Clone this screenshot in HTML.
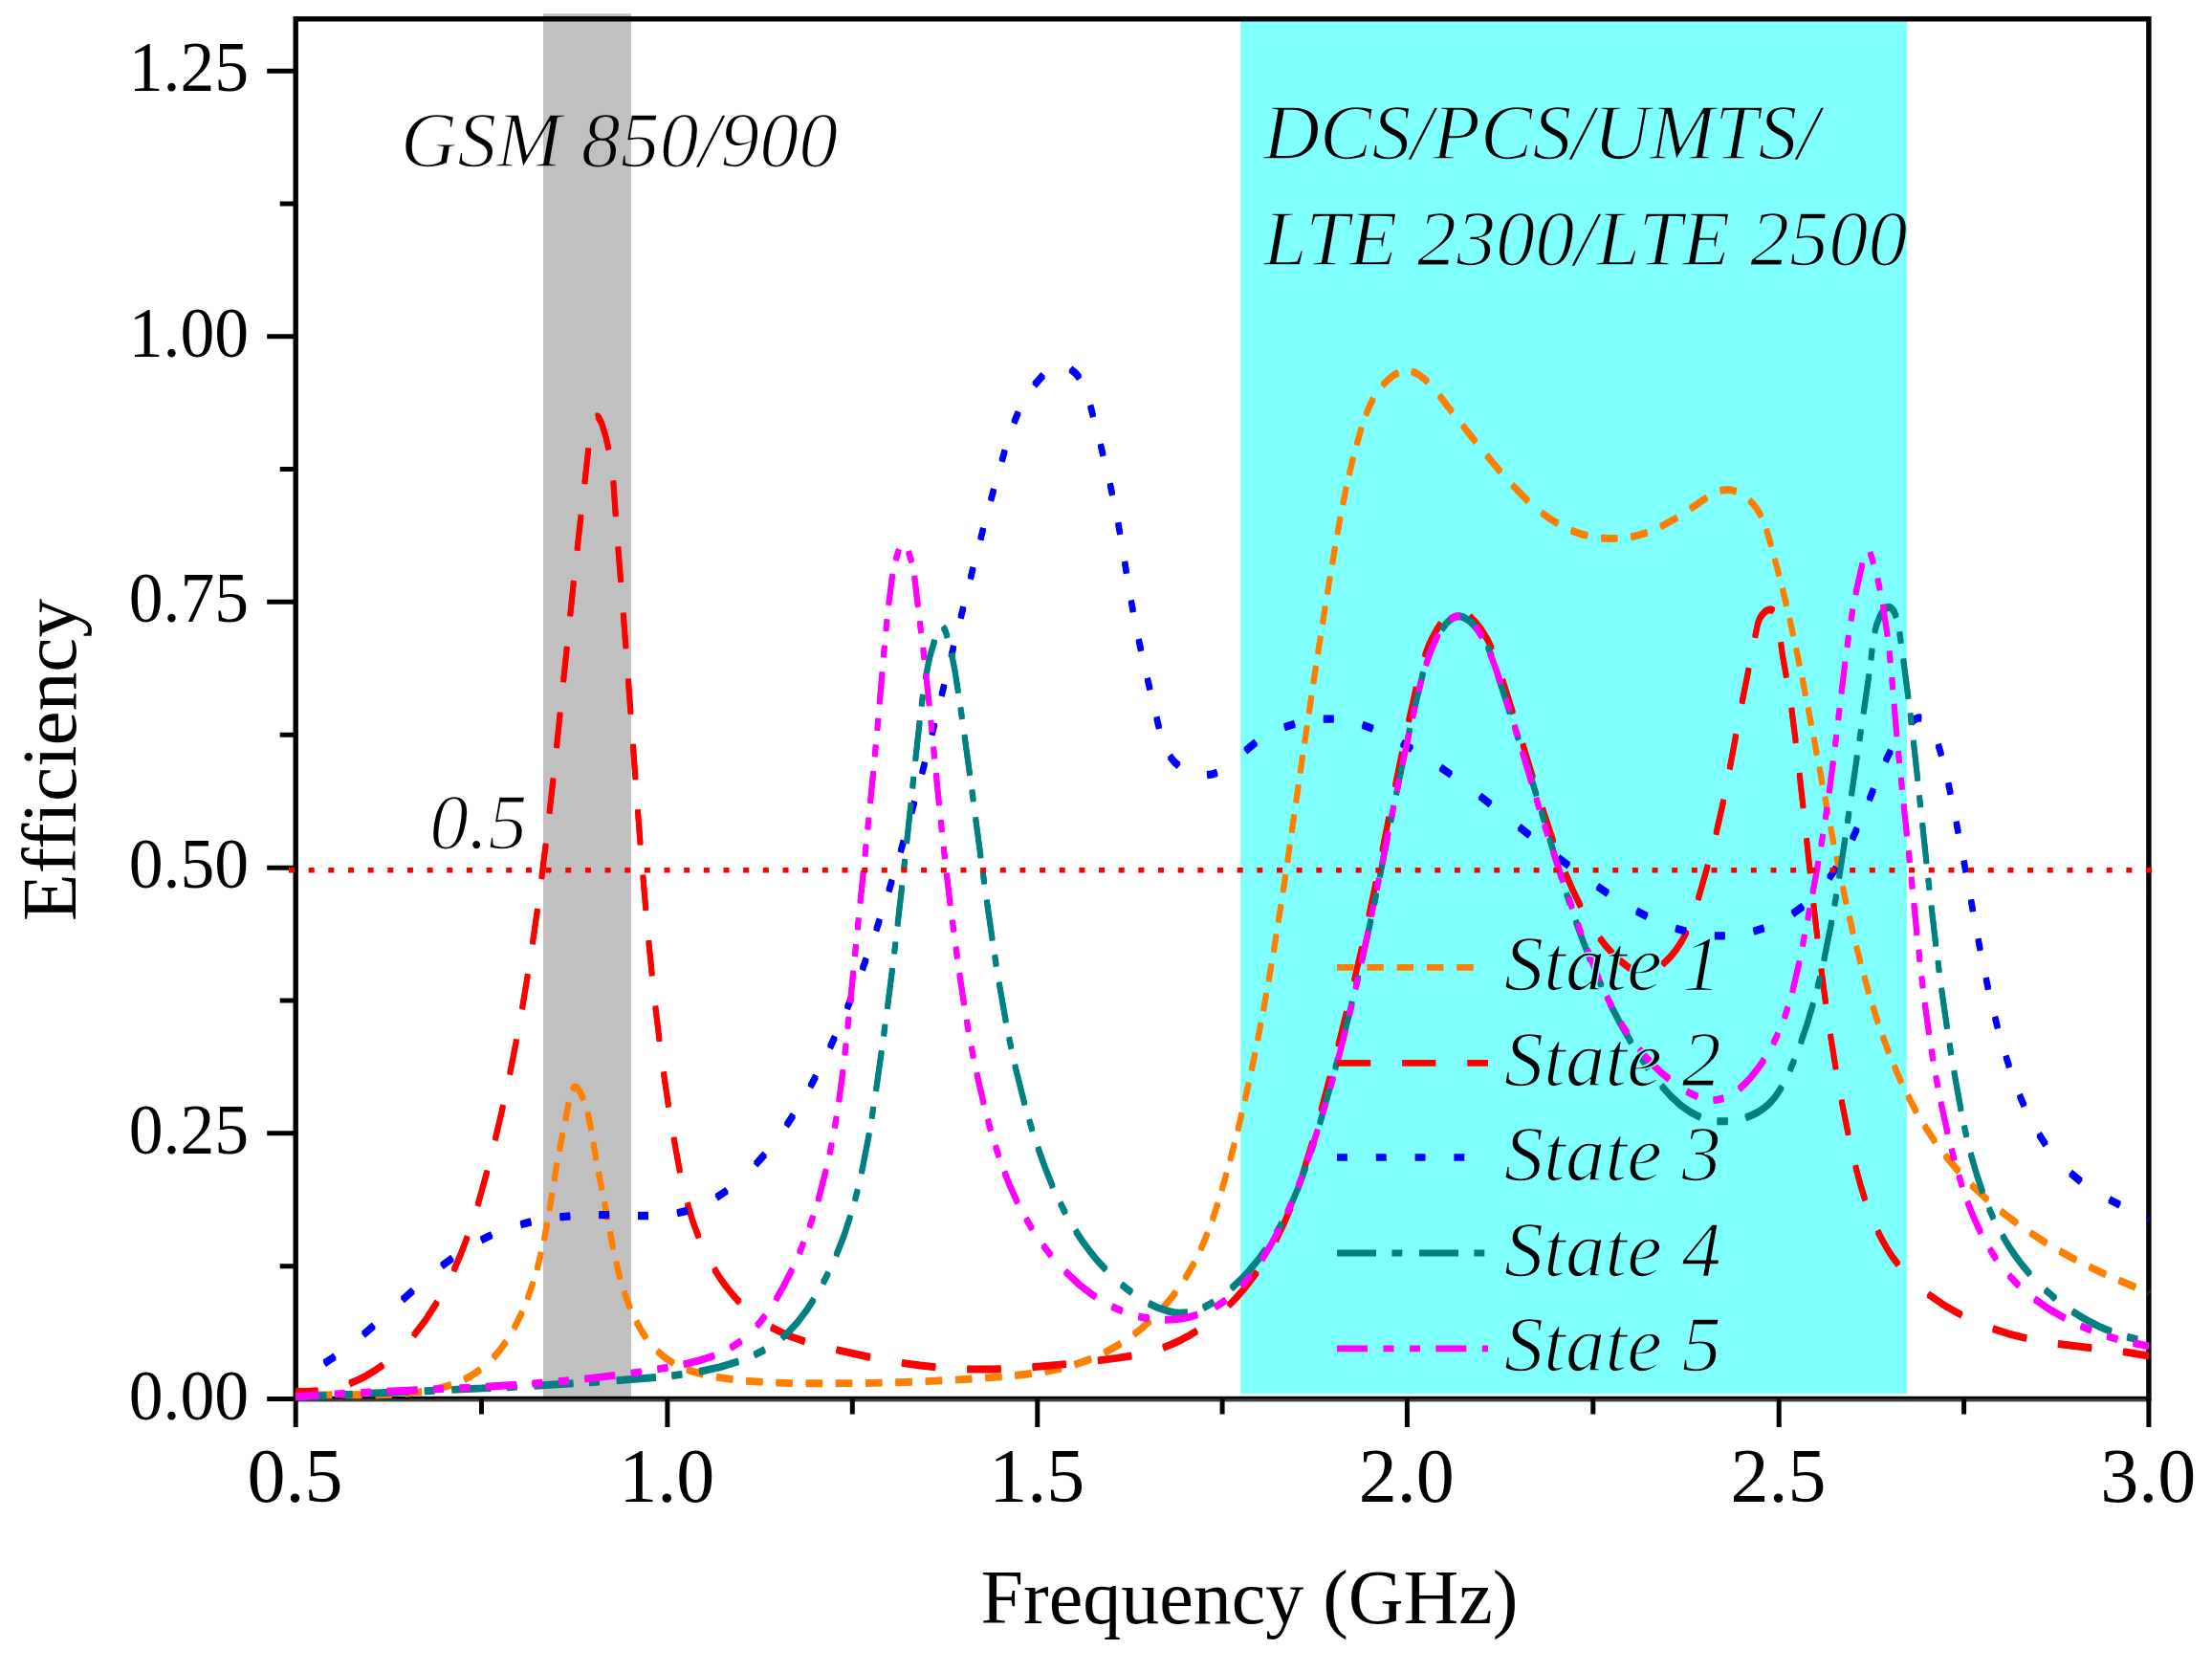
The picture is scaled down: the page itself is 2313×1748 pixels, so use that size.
<!DOCTYPE html>
<html><head><meta charset="utf-8"><title>Efficiency vs Frequency</title>
<style>
html,body{margin:0;padding:0;background:#fff;width:2313px;height:1748px;overflow:hidden;}
svg{display:block;}
text{font-family:"Liberation Serif","Times New Roman",serif;fill:#000;}
.it{font-style:italic;stroke-width:1.6;stroke-linejoin:round;}
.oc{stroke:#80FFFF;}.ow{stroke:#fff;}.og{stroke:url(#gs);}
</style></head><body>
<svg width="2313" height="1748" viewBox="0 0 2313 1748">
<defs><linearGradient id="gs" gradientUnits="userSpaceOnUse" x1="0" y1="0" x2="2313" y2="0"><stop offset="0" stop-color="#fff"/><stop offset="0.24557" stop-color="#fff"/><stop offset="0.24557" stop-color="#C0C0C0"/><stop offset="0.28534" stop-color="#C0C0C0"/><stop offset="0.28534" stop-color="#fff"/><stop offset="1" stop-color="#fff"/></linearGradient></defs>
<rect x="0" y="0" width="2313" height="1748" fill="#fff"/>
<rect x="568" y="14.2" width="92" height="1445.6" fill="#C0C0C0"/>
<rect x="1297.2" y="19" width="696.7" height="1438.0" fill="#80FFFF"/>

<rect x="309.2" y="19.8" width="1937.7" height="1442.7" fill="none" stroke="#000" stroke-width="5.4"/>
<rect x="311.9" y="1462.4" width="1932.3" height="2.8" fill="#404040"/>
<path d="M279.2,74.2 H309.2 M279.2,351.8 H309.2 M279.2,629.3 H309.2 M279.2,907.3 H309.2 M279.2,1184.8 H309.2 M279.2,1462.5 H309.2 M292.7,213.0 H309.2 M292.7,490.5 H309.2 M292.7,768.3 H309.2 M292.7,1046.0 H309.2 M292.7,1323.7 H309.2 M309.2,1462.5 V1492.0 M697.9,1462.5 V1492.0 M1084.8,1462.5 V1492.0 M1471.4,1462.5 V1492.0 M1860.2,1462.5 V1492.0 M2246.9,1462.5 V1492.0 M503.5,1462.5 V1478.5 M891.3,1462.5 V1478.5 M1278.1,1462.5 V1478.5 M1665.8,1462.5 V1478.5 M2053.6,1462.5 V1478.5" stroke="#000" stroke-width="5" fill="none"/>
<g fill="none" stroke-width="5.9" stroke-linejoin="round">
<g stroke="#FF8000"><path transform="translate(0,-1.0)" d="M309.4,1460.0 316.0,1459.3M329.8,1458.5 347.3,1458.2M361.1,1458.2 378.6,1458.3M392.4,1458.2 409.9,1457.7M423.7,1456.9 441.1,1455.0M454.7,1452.5 462.2,1450.7 471.9,1447.8M485.4,1442.3 494.2,1437.4 502.4,1431.7M515.8,1419.5 522.6,1411.6 529.3,1402.4M537.5,1388.8 546.0,1371.6M551.6,1357.9 557.5,1340.6M561.5,1327.1 565.8,1309.8M568.8,1296.2 572.2,1278.9M574.5,1265.2 577.3,1247.8M579.5,1234.1 582.4,1216.6M584.9,1202.7 588.4,1185.0M591.2,1171.1 594.7,1153.3M598.5,1139.3 600.1,1136.9 601.2,1136.3 602.4,1136.6 603.7,1137.6 607.5,1143.5 610.2,1149.4M614.5,1163.3 618.2,1180.9M620.4,1194.7 623.4,1212.2M625.9,1225.9 629.4,1243.4M632.1,1257.1 635.4,1274.5M637.9,1288.2 641.2,1305.6M644.2,1319.4 648.5,1336.8M652.6,1350.5 659.0,1367.8M665.3,1381.5 670.7,1391.1 675.7,1398.8M687.2,1412.4 695.1,1419.3 704.4,1425.4M718.1,1431.7 725.6,1434.2 735.4,1436.9M749.0,1439.6 766.4,1442.2M780.2,1443.7 797.6,1444.9M811.4,1445.6 828.8,1446.1M842.6,1446.2 860.1,1446.3M873.8,1446.3 891.3,1446.1M905.0,1446.0 922.5,1445.6M936.3,1445.3 953.8,1444.7M967.7,1444.1 985.2,1443.3M999.0,1442.6 1016.4,1441.5M1030.2,1440.6 1047.6,1439.2M1061.3,1438.0 1078.7,1436.0M1092.5,1434.0 1109.9,1430.5M1123.7,1426.8 1141.1,1420.6M1154.7,1414.4 1172.0,1404.6M1185.5,1395.2 1193.8,1388.7 1202.6,1380.8M1215.7,1367.6 1222.8,1359.4 1229.7,1350.6M1239.0,1337.1 1248.9,1320.0M1255.5,1306.4 1262.7,1289.2M1267.7,1275.5 1273.4,1258.1M1277.5,1244.3 1282.5,1226.8M1286.2,1213.0 1290.8,1195.5M1294.3,1181.6 1298.5,1164.0M1301.8,1150.1 1305.7,1132.5M1308.7,1118.6 1312.4,1101.1M1315.1,1087.3 1318.5,1069.9M1321.0,1056.3 1324.2,1039.0M1326.6,1025.5 1329.5,1008.3M1331.8,994.7 1334.6,977.4M1336.7,963.6 1339.5,946.2M1341.6,932.4 1344.2,914.9M1346.2,901.1 1348.7,883.6M1350.7,869.8 1353.2,852.4M1355.2,838.6 1357.7,821.2M1359.6,807.6 1362.1,790.2M1364.1,776.5 1366.7,759.2M1368.7,745.5 1371.3,728.0M1373.3,714.3 1376.0,696.8M1378.1,683.0 1380.8,665.6M1383.0,651.8 1385.7,634.4M1388.0,620.6 1390.8,603.2M1393.1,589.5 1396.0,572.0M1398.4,558.3 1401.6,540.9M1404.2,527.1 1407.7,509.7M1410.8,496.0 1415.0,478.5M1418.6,464.8 1423.6,447.4M1428.2,433.8 1432.3,423.8 1436.0,416.6M1445.3,403.0 1452.9,395.6 1457.6,392.2 1462.3,389.7M1475.9,388.3 1479.6,389.6 1484.3,392.3 1489.0,395.8 1493.2,399.6M1505.1,413.4 1518.5,430.9M1529.2,444.7 1543.2,462.2M1554.5,476.0 1569.1,493.4M1581.2,507.0 1598.1,524.1M1611.8,535.8 1620.7,542.3 1629.1,547.6M1642.7,554.5 1652.7,558.1 1660.2,560.2M1674.1,562.5 1681.7,563.0 1691.5,562.9M1705.2,561.3 1712.9,559.6 1722.6,556.6M1736.4,550.8 1753.8,541.0M1767.4,532.0 1784.8,520.1M1798.5,513.1 1802.7,512.2 1808.3,512.0 1811.0,512.5 1815.7,513.9M1829.2,522.9 1832.9,526.7 1836.9,531.6 1841.8,540.0M1847.1,553.5 1852.1,570.8M1855.8,584.4 1860.4,601.8M1863.9,615.6 1868.1,633.0M1871.3,646.8 1875.2,664.3M1878.1,678.1 1881.8,695.6M1884.6,709.3 1888.0,726.7M1890.7,740.4 1894.0,757.8M1896.6,771.5 1899.8,788.9M1902.4,802.5 1905.6,819.9M1908.2,833.6 1911.5,851.0M1914.1,864.8 1917.5,882.2M1920.3,896.0 1923.9,913.5M1926.8,927.2 1930.6,944.7M1933.7,958.4 1937.8,975.8M1941.1,989.6 1945.6,1007.0M1949.3,1020.8 1954.2,1038.3M1958.3,1052.1 1963.9,1069.5M1968.6,1083.2 1975.1,1100.6M1980.6,1114.4 1988.2,1131.8M1994.9,1145.5 2004.1,1162.9M2012.2,1176.6 2023.6,1194.0M2033.8,1207.7 2048.3,1225.0M2061.2,1238.6 2078.5,1254.7M2092.1,1266.1 2109.3,1279.2M2122.9,1288.7 2140.1,1299.7M2153.7,1307.8 2171.0,1317.3M2184.6,1324.3 2201.9,1332.5M2215.6,1338.6 2233.0,1345.8M2246.8,1351.2 2246.9,1351.3"/><path transform="translate(0,1.0)" d="M309.4,1460.0 316.0,1459.3M329.8,1458.5 347.3,1458.2M361.1,1458.2 378.6,1458.3M392.4,1458.2 409.9,1457.7M423.7,1456.9 441.1,1455.0M454.7,1452.5 462.2,1450.7 471.9,1447.8M485.4,1442.3 494.2,1437.4 502.4,1431.7M515.8,1419.5 522.6,1411.6 529.3,1402.4M537.5,1388.8 546.0,1371.6M551.6,1357.9 557.5,1340.6M561.5,1327.1 565.8,1309.8M568.8,1296.2 572.2,1278.9M574.5,1265.2 577.3,1247.8M579.5,1234.1 582.4,1216.6M584.9,1202.7 588.4,1185.0M591.2,1171.1 594.7,1153.3M598.5,1139.3 600.1,1136.9 601.2,1136.3 602.4,1136.6 603.7,1137.6 607.5,1143.5 610.2,1149.4M614.5,1163.3 618.2,1180.9M620.4,1194.7 623.4,1212.2M625.9,1225.9 629.4,1243.4M632.1,1257.1 635.4,1274.5M637.9,1288.2 641.2,1305.6M644.2,1319.4 648.5,1336.8M652.6,1350.5 659.0,1367.8M665.3,1381.5 670.7,1391.1 675.7,1398.8M687.2,1412.4 695.1,1419.3 704.4,1425.4M718.1,1431.7 725.6,1434.2 735.4,1436.9M749.0,1439.6 766.4,1442.2M780.2,1443.7 797.6,1444.9M811.4,1445.6 828.8,1446.1M842.6,1446.2 860.1,1446.3M873.8,1446.3 891.3,1446.1M905.0,1446.0 922.5,1445.6M936.3,1445.3 953.8,1444.7M967.7,1444.1 985.2,1443.3M999.0,1442.6 1016.4,1441.5M1030.2,1440.6 1047.6,1439.2M1061.3,1438.0 1078.7,1436.0M1092.5,1434.0 1109.9,1430.5M1123.7,1426.8 1141.1,1420.6M1154.7,1414.4 1172.0,1404.6M1185.5,1395.2 1193.8,1388.7 1202.6,1380.8M1215.7,1367.6 1222.8,1359.4 1229.7,1350.6M1239.0,1337.1 1248.9,1320.0M1255.5,1306.4 1262.7,1289.2M1267.7,1275.5 1273.4,1258.1M1277.5,1244.3 1282.5,1226.8M1286.2,1213.0 1290.8,1195.5M1294.3,1181.6 1298.5,1164.0M1301.8,1150.1 1305.7,1132.5M1308.7,1118.6 1312.4,1101.1M1315.1,1087.3 1318.5,1069.9M1321.0,1056.3 1324.2,1039.0M1326.6,1025.5 1329.5,1008.3M1331.8,994.7 1334.6,977.4M1336.7,963.6 1339.5,946.2M1341.6,932.4 1344.2,914.9M1346.2,901.1 1348.7,883.6M1350.7,869.8 1353.2,852.4M1355.2,838.6 1357.7,821.2M1359.6,807.6 1362.1,790.2M1364.1,776.5 1366.7,759.2M1368.7,745.5 1371.3,728.0M1373.3,714.3 1376.0,696.8M1378.1,683.0 1380.8,665.6M1383.0,651.8 1385.7,634.4M1388.0,620.6 1390.8,603.2M1393.1,589.5 1396.0,572.0M1398.4,558.3 1401.6,540.9M1404.2,527.1 1407.7,509.7M1410.8,496.0 1415.0,478.5M1418.6,464.8 1423.6,447.4M1428.2,433.8 1432.3,423.8 1436.0,416.6M1445.3,403.0 1452.9,395.6 1457.6,392.2 1462.3,389.7M1475.9,388.3 1479.6,389.6 1484.3,392.3 1489.0,395.8 1493.2,399.6M1505.1,413.4 1518.5,430.9M1529.2,444.7 1543.2,462.2M1554.5,476.0 1569.1,493.4M1581.2,507.0 1598.1,524.1M1611.8,535.8 1620.7,542.3 1629.1,547.6M1642.7,554.5 1652.7,558.1 1660.2,560.2M1674.1,562.5 1681.7,563.0 1691.5,562.9M1705.2,561.3 1712.9,559.6 1722.6,556.6M1736.4,550.8 1753.8,541.0M1767.4,532.0 1784.8,520.1M1798.5,513.1 1802.7,512.2 1808.3,512.0 1811.0,512.5 1815.7,513.9M1829.2,522.9 1832.9,526.7 1836.9,531.6 1841.8,540.0M1847.1,553.5 1852.1,570.8M1855.8,584.4 1860.4,601.8M1863.9,615.6 1868.1,633.0M1871.3,646.8 1875.2,664.3M1878.1,678.1 1881.8,695.6M1884.6,709.3 1888.0,726.7M1890.7,740.4 1894.0,757.8M1896.6,771.5 1899.8,788.9M1902.4,802.5 1905.6,819.9M1908.2,833.6 1911.5,851.0M1914.1,864.8 1917.5,882.2M1920.3,896.0 1923.9,913.5M1926.8,927.2 1930.6,944.7M1933.7,958.4 1937.8,975.8M1941.1,989.6 1945.6,1007.0M1949.3,1020.8 1954.2,1038.3M1958.3,1052.1 1963.9,1069.5M1968.6,1083.2 1975.1,1100.6M1980.6,1114.4 1988.2,1131.8M1994.9,1145.5 2004.1,1162.9M2012.2,1176.6 2023.6,1194.0M2033.8,1207.7 2048.3,1225.0M2061.2,1238.6 2078.5,1254.7M2092.1,1266.1 2109.3,1279.2M2122.9,1288.7 2140.1,1299.7M2153.7,1307.8 2171.0,1317.3M2184.6,1324.3 2201.9,1332.5M2215.6,1338.6 2233.0,1345.8M2246.8,1351.2 2246.9,1351.3"/></g>
<g stroke="#FF0000"><path transform="translate(0,-1.0)" d="M309.2,1454.6 319.7,1455.0 332.6,1454.3M365.4,1446.5 375.1,1442.4 383.0,1438.3 393.0,1432.2 400.7,1426.8M432.3,1396.5 444.4,1380.9 457.2,1361.2M474.4,1328.4 482.1,1310.5 488.7,1293.0M499.5,1260.1 509.4,1224.5M517.8,1191.5 526.1,1155.9M533.1,1122.8 540.1,1087.3M546.0,1054.5 551.9,1019.1M556.9,986.3 562.0,950.9M566.3,918.1 570.7,882.7M574.5,849.8 578.5,814.3M582.0,781.2 585.7,745.5M589.1,712.4 592.8,676.7M596.2,643.5 599.9,607.9M603.5,574.8 607.5,538.9M611.3,505.3 615.3,469.2M623.0,435.6 624.3,435.2 626.1,436.6 629.1,442.5 633.1,455.3 636.4,469.5M641.3,503.2 643.8,539.1M646.3,572.3 649.1,608.1M651.7,641.4 654.5,677.2M656.9,710.4 659.5,745.9M661.9,778.8 664.5,814.2M666.9,847.1 669.6,882.6M672.3,915.6 675.3,951.1M678.3,984.0 681.8,1019.5M685.3,1052.4 689.6,1088.0M693.9,1121.2 699.1,1156.8M704.5,1189.8 711.0,1225.3M718.8,1258.2 724.5,1277.1 730.6,1293.6M746.7,1326.4 752.4,1335.5 759.4,1345.2 767.0,1354.6 773.5,1361.7M806.3,1387.5 821.2,1394.9 829.5,1398.3 841.6,1402.4M874.6,1411.2 910.0,1419.0M942.9,1424.8 962.3,1427.5 978.3,1429.2M1011.2,1431.3 1028.1,1431.5 1046.7,1431.2M1079.5,1429.3 1114.9,1426.1M1147.9,1422.4 1167.6,1419.9 1183.3,1417.5M1216.2,1408.9 1226.0,1405.0 1234.2,1401.2 1242.2,1396.9 1251.6,1391.2M1284.6,1365.0 1292.2,1357.2 1300.2,1348.3 1307.6,1339.0 1314.4,1329.7M1334.0,1297.0 1342.4,1279.5 1349.9,1261.8M1361.6,1229.2 1372.3,1194.0M1381.3,1161.3 1390.7,1126.1M1399.2,1093.4 1408.0,1058.3M1415.9,1025.6 1424.1,990.4M1431.3,957.7 1438.7,922.5M1445.3,889.9 1452.3,854.7M1458.8,822.0 1466.0,786.8M1472.9,754.1 1480.8,719.0M1489.6,686.3 1493.3,676.3 1497.1,667.8 1501.7,659.4 1506.7,651.7M1536.7,644.4 1542.5,650.0 1548.7,657.8 1555.5,668.7 1560.1,678.4M1571.2,710.8 1582.1,745.7M1592.3,778.1 1603.0,813.0M1613.0,845.4 1624.5,880.3M1636.8,912.7 1644.7,930.8 1652.9,947.8M1672.6,980.5 1679.3,989.1 1687.3,998.0 1696.2,1006.2 1705.2,1013.0M1738.3,1008.5 1746.7,1000.4 1752.5,993.2 1759.0,983.1 1764.0,973.3M1775.6,940.2 1785.8,904.7M1794.4,871.9 1802.3,836.6M1808.7,803.6 1815.3,768.1M1821.5,734.9 1828.6,699.2M1835.1,666.0 1838.1,651.8 1840.3,646.2 1841.8,643.7 1845.6,639.5 1848.0,638.0 1850.3,637.3 1852.5,637.4 1854.7,639.0M1862.2,672.1 1864.1,686.3 1868.0,707.7M1873.3,740.7 1877.8,776.1M1881.6,808.9 1885.5,844.2M1889.0,877.1 1892.8,912.4M1896.3,945.2 1900.4,980.5M1904.4,1013.3 1909.1,1048.8M1913.9,1081.8 1919.7,1117.4M1925.6,1150.5 1932.7,1186.0M1940.1,1219.1 1945.4,1238.8 1950.3,1254.5M1963.4,1287.2 1968.2,1296.6 1974.1,1306.7 1978.9,1314.1 1985.1,1322.3M2016.1,1352.8 2032.3,1364.2 2051.3,1375.0M2083.9,1389.1 2099.9,1394.3 2119.1,1399.2M2151.9,1405.0 2187.2,1409.2M2220.0,1413.1 2246.9,1417.5"/><path transform="translate(0,1.0)" d="M309.2,1454.6 319.7,1455.0 332.6,1454.3M365.4,1446.5 375.1,1442.4 383.0,1438.3 393.0,1432.2 400.7,1426.8M432.3,1396.5 444.4,1380.9 457.2,1361.2M474.4,1328.4 482.1,1310.5 488.7,1293.0M499.5,1260.1 509.4,1224.5M517.8,1191.5 526.1,1155.9M533.1,1122.8 540.1,1087.3M546.0,1054.5 551.9,1019.1M556.9,986.3 562.0,950.9M566.3,918.1 570.7,882.7M574.5,849.8 578.5,814.3M582.0,781.2 585.7,745.5M589.1,712.4 592.8,676.7M596.2,643.5 599.9,607.9M603.5,574.8 607.5,538.9M611.3,505.3 615.3,469.2M623.0,435.6 624.3,435.2 626.1,436.6 629.1,442.5 633.1,455.3 636.4,469.5M641.3,503.2 643.8,539.1M646.3,572.3 649.1,608.1M651.7,641.4 654.5,677.2M656.9,710.4 659.5,745.9M661.9,778.8 664.5,814.2M666.9,847.1 669.6,882.6M672.3,915.6 675.3,951.1M678.3,984.0 681.8,1019.5M685.3,1052.4 689.6,1088.0M693.9,1121.2 699.1,1156.8M704.5,1189.8 711.0,1225.3M718.8,1258.2 724.5,1277.1 730.6,1293.6M746.7,1326.4 752.4,1335.5 759.4,1345.2 767.0,1354.6 773.5,1361.7M806.3,1387.5 821.2,1394.9 829.5,1398.3 841.6,1402.4M874.6,1411.2 910.0,1419.0M942.9,1424.8 962.3,1427.5 978.3,1429.2M1011.2,1431.3 1028.1,1431.5 1046.7,1431.2M1079.5,1429.3 1114.9,1426.1M1147.9,1422.4 1167.6,1419.9 1183.3,1417.5M1216.2,1408.9 1226.0,1405.0 1234.2,1401.2 1242.2,1396.9 1251.6,1391.2M1284.6,1365.0 1292.2,1357.2 1300.2,1348.3 1307.6,1339.0 1314.4,1329.7M1334.0,1297.0 1342.4,1279.5 1349.9,1261.8M1361.6,1229.2 1372.3,1194.0M1381.3,1161.3 1390.7,1126.1M1399.2,1093.4 1408.0,1058.3M1415.9,1025.6 1424.1,990.4M1431.3,957.7 1438.7,922.5M1445.3,889.9 1452.3,854.7M1458.8,822.0 1466.0,786.8M1472.9,754.1 1480.8,719.0M1489.6,686.3 1493.3,676.3 1497.1,667.8 1501.7,659.4 1506.7,651.7M1536.7,644.4 1542.5,650.0 1548.7,657.8 1555.5,668.7 1560.1,678.4M1571.2,710.8 1582.1,745.7M1592.3,778.1 1603.0,813.0M1613.0,845.4 1624.5,880.3M1636.8,912.7 1644.7,930.8 1652.9,947.8M1672.6,980.5 1679.3,989.1 1687.3,998.0 1696.2,1006.2 1705.2,1013.0M1738.3,1008.5 1746.7,1000.4 1752.5,993.2 1759.0,983.1 1764.0,973.3M1775.6,940.2 1785.8,904.7M1794.4,871.9 1802.3,836.6M1808.7,803.6 1815.3,768.1M1821.5,734.9 1828.6,699.2M1835.1,666.0 1838.1,651.8 1840.3,646.2 1841.8,643.7 1845.6,639.5 1848.0,638.0 1850.3,637.3 1852.5,637.4 1854.7,639.0M1862.2,672.1 1864.1,686.3 1868.0,707.7M1873.3,740.7 1877.8,776.1M1881.6,808.9 1885.5,844.2M1889.0,877.1 1892.8,912.4M1896.3,945.2 1900.4,980.5M1904.4,1013.3 1909.1,1048.8M1913.9,1081.8 1919.7,1117.4M1925.6,1150.5 1932.7,1186.0M1940.1,1219.1 1945.4,1238.8 1950.3,1254.5M1963.4,1287.2 1968.2,1296.6 1974.1,1306.7 1978.9,1314.1 1985.1,1322.3M2016.1,1352.8 2032.3,1364.2 2051.3,1375.0M2083.9,1389.1 2099.9,1394.3 2119.1,1399.2M2151.9,1405.0 2187.2,1409.2M2220.0,1413.1 2246.9,1417.5"/></g>
<g stroke="#0000FF" stroke-width="6.3"><path transform="translate(0,-1.0)" d="M339.2,1425.3 350.1,1418.2M379.9,1395.3 390.8,1385.9M420.8,1359.0 431.8,1349.1M461.9,1323.6 473.0,1315.3M503.2,1296.4 514.2,1291.0M544.4,1280.2 555.4,1277.4M585.4,1272.3 596.3,1271.3M626.2,1270.1 637.1,1270.2M667.0,1271.0 678.0,1271.0M708.1,1268.3 719.1,1265.6M749.2,1251.9 760.2,1244.5M790.1,1217.5 799.8,1206.6M822.3,1176.7 829.5,1165.8M847.3,1135.9 853.2,1124.9M867.9,1095.1 872.9,1084.1M885.8,1054.1 890.2,1043.2M901.7,1013.3 905.7,1002.4M916.2,972.5 919.8,961.5M929.4,931.5 932.7,920.5M941.7,890.4 944.8,879.4M953.2,849.4 956.2,838.4M964.1,808.4 967.0,797.5M974.5,767.7 977.3,756.8M984.6,727.1 987.3,716.3M994.6,686.6 997.2,675.7M1004.6,645.8 1007.3,634.9M1014.8,604.8 1017.5,593.8M1025.3,563.7 1028.1,552.7M1036.1,522.8 1039.1,511.8M1047.6,481.9 1050.7,471.1M1060.3,441.7 1064.7,431.1M1081.5,402.6 1090.8,392.2M1119.3,385.9 1124.8,390.3 1128.8,395.3M1140.2,424.4 1143.0,435.2M1150.8,465.1 1153.5,476.1M1160.7,506.1 1163.1,517.0M1169.2,547.1 1171.2,558.0M1176.1,587.8 1177.9,598.7M1182.8,628.4 1184.8,639.3M1190.7,669.0 1193.1,679.9M1199.8,709.7 1202.4,720.5M1209.4,750.2 1212.0,761.1M1223.1,790.5 1228.0,796.6 1232.6,800.7M1262.1,810.2 1266.4,809.7 1272.8,807.8M1302.3,785.0 1313.2,776.0M1343.0,760.2 1353.9,756.7M1383.8,751.6 1394.7,751.7M1424.7,757.8 1435.6,761.9M1465.5,776.7 1476.5,783.1M1506.4,802.3 1517.4,810.0M1547.5,832.2 1558.5,840.7M1588.5,864.5 1599.5,873.3M1629.5,896.8 1640.4,905.1M1670.4,926.7 1681.3,934.1M1711.3,952.4 1722.2,958.1M1752.1,970.5 1763.0,973.8M1792.9,978.3 1803.8,978.3M1833.6,973.7 1844.5,970.3M1874.4,955.4 1885.4,947.4M1912.6,918.2 1920.1,907.2M1936.8,877.1 1941.9,866.1M1954.6,836.2 1959.0,825.2M1971.6,795.7 1977.0,784.8M1998.4,755.2 2001.9,752.4 2003.9,751.2 2006.0,750.5 2009.3,750.6M2026.7,778.7 2030.1,789.5M2037.3,819.1 2039.6,829.9M2045.6,859.7 2047.7,870.6M2053.5,900.4 2055.5,911.4M2061.0,941.2 2063.0,952.2M2068.5,982.1 2070.6,993.0M2076.7,1022.8 2079.0,1033.8M2086.1,1063.6 2088.9,1074.5M2097.5,1104.4 2101.0,1115.3M2111.8,1145.1 2116.5,1156.0M2132.0,1185.8 2139.1,1196.7M2165.0,1226.2 2175.9,1235.2M2205.7,1254.0 2216.6,1259.7M2246.3,1274.5 2246.9,1274.9"/><path transform="translate(0,1.0)" d="M339.2,1425.3 350.1,1418.2M379.9,1395.3 390.8,1385.9M420.8,1359.0 431.8,1349.1M461.9,1323.6 473.0,1315.3M503.2,1296.4 514.2,1291.0M544.4,1280.2 555.4,1277.4M585.4,1272.3 596.3,1271.3M626.2,1270.1 637.1,1270.2M667.0,1271.0 678.0,1271.0M708.1,1268.3 719.1,1265.6M749.2,1251.9 760.2,1244.5M790.1,1217.5 799.8,1206.6M822.3,1176.7 829.5,1165.8M847.3,1135.9 853.2,1124.9M867.9,1095.1 872.9,1084.1M885.8,1054.1 890.2,1043.2M901.7,1013.3 905.7,1002.4M916.2,972.5 919.8,961.5M929.4,931.5 932.7,920.5M941.7,890.4 944.8,879.4M953.2,849.4 956.2,838.4M964.1,808.4 967.0,797.5M974.5,767.7 977.3,756.8M984.6,727.1 987.3,716.3M994.6,686.6 997.2,675.7M1004.6,645.8 1007.3,634.9M1014.8,604.8 1017.5,593.8M1025.3,563.7 1028.1,552.7M1036.1,522.8 1039.1,511.8M1047.6,481.9 1050.7,471.1M1060.3,441.7 1064.7,431.1M1081.5,402.6 1090.8,392.2M1119.3,385.9 1124.8,390.3 1128.8,395.3M1140.2,424.4 1143.0,435.2M1150.8,465.1 1153.5,476.1M1160.7,506.1 1163.1,517.0M1169.2,547.1 1171.2,558.0M1176.1,587.8 1177.9,598.7M1182.8,628.4 1184.8,639.3M1190.7,669.0 1193.1,679.9M1199.8,709.7 1202.4,720.5M1209.4,750.2 1212.0,761.1M1223.1,790.5 1228.0,796.6 1232.6,800.7M1262.1,810.2 1266.4,809.7 1272.8,807.8M1302.3,785.0 1313.2,776.0M1343.0,760.2 1353.9,756.7M1383.8,751.6 1394.7,751.7M1424.7,757.8 1435.6,761.9M1465.5,776.7 1476.5,783.1M1506.4,802.3 1517.4,810.0M1547.5,832.2 1558.5,840.7M1588.5,864.5 1599.5,873.3M1629.5,896.8 1640.4,905.1M1670.4,926.7 1681.3,934.1M1711.3,952.4 1722.2,958.1M1752.1,970.5 1763.0,973.8M1792.9,978.3 1803.8,978.3M1833.6,973.7 1844.5,970.3M1874.4,955.4 1885.4,947.4M1912.6,918.2 1920.1,907.2M1936.8,877.1 1941.9,866.1M1954.6,836.2 1959.0,825.2M1971.6,795.7 1977.0,784.8M1998.4,755.2 2001.9,752.4 2003.9,751.2 2006.0,750.5 2009.3,750.6M2026.7,778.7 2030.1,789.5M2037.3,819.1 2039.6,829.9M2045.6,859.7 2047.7,870.6M2053.5,900.4 2055.5,911.4M2061.0,941.2 2063.0,952.2M2068.5,982.1 2070.6,993.0M2076.7,1022.8 2079.0,1033.8M2086.1,1063.6 2088.9,1074.5M2097.5,1104.4 2101.0,1115.3M2111.8,1145.1 2116.5,1156.0M2132.0,1185.8 2139.1,1196.7M2165.0,1226.2 2175.9,1235.2M2205.7,1254.0 2216.6,1259.7M2246.3,1274.5 2246.9,1274.9"/></g>
<g stroke="#008080"><path transform="translate(0,-1.0)" d="M309.2,1460.6 341.4,1458.9M357.8,1458.1 368.7,1457.6M386.4,1456.8 427.4,1454.9M443.8,1454.2 454.7,1453.7M472.4,1452.9 513.4,1451.0M529.8,1450.2 540.7,1449.6M558.5,1448.7 599.5,1446.3M616.0,1445.3 626.9,1444.6M644.7,1443.3 685.9,1440.0M702.4,1438.3 713.3,1436.9M731.1,1434.0 753.3,1429.1 772.3,1423.2M788.7,1416.6 799.7,1411.0M817.5,1398.8 825.5,1391.6 833.6,1382.7 842.8,1370.8 851.0,1358.2M860.5,1341.6 866.2,1330.6M874.3,1312.7 882.5,1291.8 889.2,1271.4M893.9,1255.0 896.8,1244.0M900.9,1226.3 908.9,1185.3M911.6,1168.8 913.3,1157.9M916.0,1140.2 921.8,1099.1M924.1,1082.7 925.5,1071.7M927.9,1054.0 933.1,1012.9M935.1,996.5 936.4,985.5M938.5,967.7 943.2,926.4M945.0,909.9 946.2,898.9M948.1,881.1 952.5,840.0M954.2,823.6 955.3,812.7M957.2,795.0 961.7,754.1M963.6,737.7 965.0,726.9M967.6,709.6 972.1,687.1 977.3,669.6M986.0,655.5 987.6,657.5 988.6,659.7 990.7,666.1M995.0,683.4 998.4,700.6 1002.0,723.9M1004.4,740.2 1006.0,751.1M1008.5,768.9 1014.1,810.0M1016.3,826.4 1017.8,837.3M1020.1,855.1 1025.6,896.3M1027.8,912.7 1029.3,923.6M1031.8,941.5 1037.7,982.6M1040.2,999.0 1041.8,1009.8M1044.7,1027.6 1051.9,1068.6M1055.1,1085.0 1057.4,1095.9M1061.2,1113.6 1071.5,1154.6M1076.2,1171.0 1079.5,1182.0M1085.3,1199.8 1092.9,1221.0 1101.0,1241.2M1108.6,1257.7 1114.2,1268.7M1124.5,1286.5 1132.1,1298.0 1139.2,1307.6 1146.7,1317.0 1156.4,1327.6M1172.6,1342.8 1183.5,1351.3M1201.1,1362.6 1211.0,1367.3 1222.2,1371.0 1227.8,1372.1 1233.5,1372.6 1241.9,1372.2M1258.2,1367.3 1269.2,1361.2M1287.5,1347.1 1297.8,1337.4 1306.1,1328.5 1315.7,1316.9 1323.7,1306.1M1334.2,1289.7 1340.3,1278.8M1349.2,1261.1 1358.1,1240.3 1365.6,1220.0M1371.2,1203.6 1374.6,1192.7M1380.0,1174.9 1391.6,1133.9M1396.1,1117.4 1399.0,1106.5M1403.6,1088.8 1413.9,1047.7M1417.8,1031.3 1420.4,1020.4M1424.5,1002.7 1433.5,961.6M1437.0,945.2 1439.2,934.3M1442.8,916.5 1451.0,875.5M1454.2,859.0 1456.4,848.1M1460.0,830.4 1468.4,789.3M1471.9,772.9 1474.2,762.0M1478.2,744.2 1488.1,703.2M1493.2,686.8 1497.6,675.8M1507.4,658.1 1512.4,651.7 1516.6,647.7 1521.1,645.1 1523.4,644.4 1525.8,644.2 1530.6,645.4 1535.4,648.3 1540.0,652.3 1545.9,659.3M1555.6,675.7 1560.0,686.6M1565.7,704.3 1578.9,745.4M1584.3,761.8 1587.9,772.7M1593.7,790.5 1606.7,831.5M1611.6,848.0 1614.9,858.9M1620.2,876.6 1632.8,917.7M1638.0,934.1 1641.6,945.0M1647.6,962.7 1655.3,983.9 1663.1,1003.8M1670.0,1020.2 1674.8,1031.1M1683.3,1048.9 1693.9,1069.3 1705.8,1089.9M1716.2,1106.4 1723.7,1117.3M1737.2,1135.0 1746.6,1145.5 1757.4,1155.5 1766.8,1162.1 1771.7,1164.9 1778.2,1168.0M1795.5,1172.2 1806.9,1172.3M1825.3,1168.5 1832.7,1165.5 1838.2,1162.7 1843.3,1159.3 1848.0,1155.6 1852.2,1151.4 1856.1,1146.9 1863.3,1136.1M1871.6,1119.2 1876.2,1108.2M1882.9,1090.4 1889.4,1071.3 1896.0,1049.2M1900.4,1032.7 1903.1,1021.8M1907.2,1004.0 1915.4,962.8M1918.3,946.4 1920.2,935.4M1923.1,917.6 1929.4,876.4M1931.9,859.9 1933.5,849.0M1936.0,831.3 1941.9,790.4M1944.3,774.0 1946.0,763.2M1948.6,745.6 1954.4,705.3M1956.4,689.3 1957.6,678.6M1960.2,661.1 1962.2,653.3 1965.5,644.9 1968.3,639.9 1971.5,636.3 1973.1,635.2 1974.7,634.8 1976.3,635.0 1977.8,635.9 1980.4,639.0 1982.9,645.0M1986.2,661.2 1987.8,671.9M1990.2,689.3 1995.5,729.8M1997.5,746.2 1998.7,757.1M2000.8,774.8 2005.3,815.8M2007.0,832.2 2008.2,843.2M2010.1,861.0 2014.5,902.2M2016.3,918.7 2017.5,929.7M2019.5,947.4 2024.3,988.6M2026.4,1005.0 2027.8,1016.0M2030.1,1033.7 2036.0,1074.9M2038.5,1091.3 2040.2,1102.2M2043.2,1119.9 2050.6,1160.9M2053.9,1177.3 2056.3,1188.2M2060.6,1205.9 2066.9,1227.8 2073.3,1246.8M2079.7,1263.1 2084.6,1274.0M2093.7,1291.6 2100.7,1303.2 2107.4,1313.0 2114.5,1322.5 2122.8,1332.4M2138.6,1348.4 2149.4,1357.9M2167.0,1370.9 2175.9,1376.6 2186.5,1382.5 2197.3,1387.8 2207.8,1392.2M2224.2,1397.6 2235.1,1400.4"/><path transform="translate(0,1.0)" d="M309.2,1460.6 341.4,1458.9M357.8,1458.1 368.7,1457.6M386.4,1456.8 427.4,1454.9M443.8,1454.2 454.7,1453.7M472.4,1452.9 513.4,1451.0M529.8,1450.2 540.7,1449.6M558.5,1448.7 599.5,1446.3M616.0,1445.3 626.9,1444.6M644.7,1443.3 685.9,1440.0M702.4,1438.3 713.3,1436.9M731.1,1434.0 753.3,1429.1 772.3,1423.2M788.7,1416.6 799.7,1411.0M817.5,1398.8 825.5,1391.6 833.6,1382.7 842.8,1370.8 851.0,1358.2M860.5,1341.6 866.2,1330.6M874.3,1312.7 882.5,1291.8 889.2,1271.4M893.9,1255.0 896.8,1244.0M900.9,1226.3 908.9,1185.3M911.6,1168.8 913.3,1157.9M916.0,1140.2 921.8,1099.1M924.1,1082.7 925.5,1071.7M927.9,1054.0 933.1,1012.9M935.1,996.5 936.4,985.5M938.5,967.7 943.2,926.4M945.0,909.9 946.2,898.9M948.1,881.1 952.5,840.0M954.2,823.6 955.3,812.7M957.2,795.0 961.7,754.1M963.6,737.7 965.0,726.9M967.6,709.6 972.1,687.1 977.3,669.6M986.0,655.5 987.6,657.5 988.6,659.7 990.7,666.1M995.0,683.4 998.4,700.6 1002.0,723.9M1004.4,740.2 1006.0,751.1M1008.5,768.9 1014.1,810.0M1016.3,826.4 1017.8,837.3M1020.1,855.1 1025.6,896.3M1027.8,912.7 1029.3,923.6M1031.8,941.5 1037.7,982.6M1040.2,999.0 1041.8,1009.8M1044.7,1027.6 1051.9,1068.6M1055.1,1085.0 1057.4,1095.9M1061.2,1113.6 1071.5,1154.6M1076.2,1171.0 1079.5,1182.0M1085.3,1199.8 1092.9,1221.0 1101.0,1241.2M1108.6,1257.7 1114.2,1268.7M1124.5,1286.5 1132.1,1298.0 1139.2,1307.6 1146.7,1317.0 1156.4,1327.6M1172.6,1342.8 1183.5,1351.3M1201.1,1362.6 1211.0,1367.3 1222.2,1371.0 1227.8,1372.1 1233.5,1372.6 1241.9,1372.2M1258.2,1367.3 1269.2,1361.2M1287.5,1347.1 1297.8,1337.4 1306.1,1328.5 1315.7,1316.9 1323.7,1306.1M1334.2,1289.7 1340.3,1278.8M1349.2,1261.1 1358.1,1240.3 1365.6,1220.0M1371.2,1203.6 1374.6,1192.7M1380.0,1174.9 1391.6,1133.9M1396.1,1117.4 1399.0,1106.5M1403.6,1088.8 1413.9,1047.7M1417.8,1031.3 1420.4,1020.4M1424.5,1002.7 1433.5,961.6M1437.0,945.2 1439.2,934.3M1442.8,916.5 1451.0,875.5M1454.2,859.0 1456.4,848.1M1460.0,830.4 1468.4,789.3M1471.9,772.9 1474.2,762.0M1478.2,744.2 1488.1,703.2M1493.2,686.8 1497.6,675.8M1507.4,658.1 1512.4,651.7 1516.6,647.7 1521.1,645.1 1523.4,644.4 1525.8,644.2 1530.6,645.4 1535.4,648.3 1540.0,652.3 1545.9,659.3M1555.6,675.7 1560.0,686.6M1565.7,704.3 1578.9,745.4M1584.3,761.8 1587.9,772.7M1593.7,790.5 1606.7,831.5M1611.6,848.0 1614.9,858.9M1620.2,876.6 1632.8,917.7M1638.0,934.1 1641.6,945.0M1647.6,962.7 1655.3,983.9 1663.1,1003.8M1670.0,1020.2 1674.8,1031.1M1683.3,1048.9 1693.9,1069.3 1705.8,1089.9M1716.2,1106.4 1723.7,1117.3M1737.2,1135.0 1746.6,1145.5 1757.4,1155.5 1766.8,1162.1 1771.7,1164.9 1778.2,1168.0M1795.5,1172.2 1806.9,1172.3M1825.3,1168.5 1832.7,1165.5 1838.2,1162.7 1843.3,1159.3 1848.0,1155.6 1852.2,1151.4 1856.1,1146.9 1863.3,1136.1M1871.6,1119.2 1876.2,1108.2M1882.9,1090.4 1889.4,1071.3 1896.0,1049.2M1900.4,1032.7 1903.1,1021.8M1907.2,1004.0 1915.4,962.8M1918.3,946.4 1920.2,935.4M1923.1,917.6 1929.4,876.4M1931.9,859.9 1933.5,849.0M1936.0,831.3 1941.9,790.4M1944.3,774.0 1946.0,763.2M1948.6,745.6 1954.4,705.3M1956.4,689.3 1957.6,678.6M1960.2,661.1 1962.2,653.3 1965.5,644.9 1968.3,639.9 1971.5,636.3 1973.1,635.2 1974.7,634.8 1976.3,635.0 1977.8,635.9 1980.4,639.0 1982.9,645.0M1986.2,661.2 1987.8,671.9M1990.2,689.3 1995.5,729.8M1997.5,746.2 1998.7,757.1M2000.8,774.8 2005.3,815.8M2007.0,832.2 2008.2,843.2M2010.1,861.0 2014.5,902.2M2016.3,918.7 2017.5,929.7M2019.5,947.4 2024.3,988.6M2026.4,1005.0 2027.8,1016.0M2030.1,1033.7 2036.0,1074.9M2038.5,1091.3 2040.2,1102.2M2043.2,1119.9 2050.6,1160.9M2053.9,1177.3 2056.3,1188.2M2060.6,1205.9 2066.9,1227.8 2073.3,1246.8M2079.7,1263.1 2084.6,1274.0M2093.7,1291.6 2100.7,1303.2 2107.4,1313.0 2114.5,1322.5 2122.8,1332.4M2138.6,1348.4 2149.4,1357.9M2167.0,1370.9 2175.9,1376.6 2186.5,1382.5 2197.3,1387.8 2207.8,1392.2M2224.2,1397.6 2235.1,1400.4"/></g>
<g stroke="#FF00FF"><path transform="translate(0,-1.0)" d="M309.2,1460.2 333.3,1458.5M349.8,1457.5 360.8,1456.9M377.3,1456.0 388.3,1455.5M404.6,1454.7 436.6,1453.2M453.1,1452.5 464.1,1451.9M480.6,1451.1 491.6,1450.6M507.9,1449.7 539.9,1447.7M556.4,1446.5 567.4,1445.7M583.9,1444.3 594.9,1443.3M611.2,1441.6 643.2,1437.9M659.7,1435.7 670.7,1434.1M687.4,1431.4 698.4,1429.6M714.8,1426.4 731.3,1422.4 747.1,1417.2M763.8,1409.3 775.0,1401.9M791.3,1386.5 800.3,1375.4M811.2,1358.9 819.7,1343.9 828.4,1326.8M835.8,1310.2 840.3,1299.2M846.5,1282.7 850.3,1271.6M855.4,1255.2 863.8,1223.1M867.5,1206.5 869.7,1195.5M872.8,1178.8 874.7,1167.7M877.2,1151.3 881.5,1119.1M883.4,1102.5 884.6,1091.5M886.3,1074.9 887.5,1063.9M889.1,1047.6 892.3,1015.6M893.9,999.1 895.0,988.0M896.7,971.4 897.8,960.3M899.5,943.8 902.8,911.4M904.5,894.6 905.6,883.4M907.3,866.6 908.4,855.5M910.0,839.1 913.2,807.0M914.7,790.4 915.8,779.4M917.3,762.9 918.3,751.8M919.7,735.4 922.5,703.2M923.9,686.6 924.9,675.6M926.4,659.1 927.5,648.1M929.2,631.9 933.2,600.8M936.5,585.2 940.0,575.0M949.9,576.9 953.3,587.3M956.2,602.7 959.9,633.8M961.8,650.2 963.1,661.2M965.2,677.8 966.5,688.8M968.3,705.2 971.7,737.2M973.4,753.8 974.5,764.8M976.1,781.5 977.2,792.5M978.8,809.0 982.0,841.3M983.7,858.0 984.9,869.2M986.7,885.9 988.0,897.1M989.8,913.6 993.7,946.0M995.8,962.6 997.3,973.7M999.5,990.5 1001.0,1001.6M1003.3,1018.0 1008.1,1050.2M1010.8,1066.8 1012.7,1077.9M1015.8,1094.6 1017.9,1105.7M1021.3,1122.1 1028.7,1154.1M1032.9,1170.6 1036.0,1181.6M1040.9,1198.1 1044.5,1209.1M1050.3,1225.4 1056.5,1240.8 1064.1,1257.4M1072.8,1274.0 1079.4,1285.1M1090.6,1301.7 1099.2,1312.8M1113.8,1329.2 1128.6,1343.0 1138.2,1350.6 1146.0,1356.2M1162.6,1365.9 1173.7,1370.9M1190.4,1376.3 1201.6,1378.5M1218.1,1379.8 1226.0,1379.5 1234.8,1378.6 1243.5,1376.9 1252.2,1374.5M1270.6,1366.6 1281.8,1359.2M1298.3,1344.4 1307.7,1333.3M1319.4,1317.0 1328.5,1302.1 1337.8,1284.9M1345.7,1268.3 1350.6,1257.3M1357.3,1240.7 1361.4,1229.7M1367.3,1213.4 1377.9,1181.3M1383.0,1164.7 1386.3,1153.7M1391.1,1137.1 1394.2,1126.1M1398.7,1109.7 1406.9,1077.6M1411.0,1061.1 1413.6,1050.1M1417.5,1033.5 1420.0,1022.5M1423.6,1006.1 1430.6,974.0M1434.1,957.5 1436.3,946.4M1439.7,929.9 1442.0,918.8M1445.3,902.5 1451.8,870.4M1455.2,853.8 1457.4,842.8M1460.8,826.3 1463.1,815.2M1466.5,798.9 1473.4,766.8M1477.1,750.2 1479.6,739.2M1483.5,722.6 1486.3,711.6M1491.0,695.3 1496.6,679.4 1503.8,663.2M1515.8,647.3 1520.3,645.2 1523.1,644.4 1526.8,644.2M1542.7,655.0 1549.8,666.0M1557.8,682.4 1562.7,695.2 1569.4,714.5M1574.8,731.0 1578.4,742.1M1583.5,758.6 1586.9,769.6M1591.8,786.0 1601.4,818.1M1606.3,834.7 1609.7,845.7M1614.9,862.2 1618.4,873.3M1623.7,889.6 1634.5,921.7M1640.2,938.3 1644.0,949.3M1649.9,965.9 1653.9,976.9M1659.9,993.2 1672.7,1025.3M1680.2,1041.9 1685.7,1052.9M1694.9,1069.5 1702.0,1080.5M1714.0,1096.9 1721.1,1105.2 1729.4,1114.1 1736.1,1120.4 1745.4,1128.3M1763.7,1141.1 1775.2,1146.7M1791.5,1150.1 1795.8,1149.8 1802.4,1148.2M1818.5,1138.6 1824.3,1133.3 1830.7,1126.4 1838.5,1116.6 1844.8,1107.5M1854.1,1091.3 1859.3,1080.4M1865.8,1064.1 1869.5,1053.2M1874.2,1037.1 1881.6,1005.3M1884.9,988.8 1887.0,977.8M1890.2,961.4 1892.3,950.3M1895.4,933.8 1901.4,901.0M1904.2,884.3 1906.1,872.7M1908.7,856.0 1910.4,844.8M1912.7,828.4 1916.9,796.3M1918.9,779.8 1920.2,768.9M1922.2,752.2 1923.5,741.0M1925.5,724.6 1929.4,692.5M1931.5,676.0 1933.0,665.0M1935.5,648.5 1937.3,637.5M1940.3,621.2 1947.4,589.3M1955.5,577.8 1959.1,588.8M1963.3,605.3 1965.8,616.3M1968.9,632.6 1973.7,664.7M1975.6,681.2 1976.7,692.3M1978.3,709.1 1979.2,720.3M1980.6,736.8 1983.4,769.2M1985.0,786.0 1986.1,797.1M1987.8,813.8 1988.9,824.9M1990.6,841.3 1994.0,873.5M1995.8,890.1 1996.9,901.1M1998.6,917.6 1999.7,928.6M2001.3,945.0 2004.5,977.1M2006.3,993.6 2007.5,1004.7M2009.3,1021.3 2010.7,1032.4M2012.7,1048.8 2017.1,1080.9M2019.6,1097.5 2021.4,1108.5M2024.2,1125.2 2026.3,1136.2M2029.5,1152.6 2036.6,1184.8M2040.7,1201.4 2043.6,1212.5M2048.3,1229.2 2051.8,1240.3M2057.4,1256.7 2063.6,1272.3 2071.3,1289.0M2080.5,1305.6 2087.6,1316.7M2100.6,1333.3 2111.1,1344.2M2127.4,1358.0 2143.8,1369.4 2159.4,1378.3M2175.8,1386.3 2186.8,1390.9M2203.3,1396.8 2214.3,1400.1M2230.6,1404.2 2246.9,1407.3"/><path transform="translate(0,1.0)" d="M309.2,1460.2 333.3,1458.5M349.8,1457.5 360.8,1456.9M377.3,1456.0 388.3,1455.5M404.6,1454.7 436.6,1453.2M453.1,1452.5 464.1,1451.9M480.6,1451.1 491.6,1450.6M507.9,1449.7 539.9,1447.7M556.4,1446.5 567.4,1445.7M583.9,1444.3 594.9,1443.3M611.2,1441.6 643.2,1437.9M659.7,1435.7 670.7,1434.1M687.4,1431.4 698.4,1429.6M714.8,1426.4 731.3,1422.4 747.1,1417.2M763.8,1409.3 775.0,1401.9M791.3,1386.5 800.3,1375.4M811.2,1358.9 819.7,1343.9 828.4,1326.8M835.8,1310.2 840.3,1299.2M846.5,1282.7 850.3,1271.6M855.4,1255.2 863.8,1223.1M867.5,1206.5 869.7,1195.5M872.8,1178.8 874.7,1167.7M877.2,1151.3 881.5,1119.1M883.4,1102.5 884.6,1091.5M886.3,1074.9 887.5,1063.9M889.1,1047.6 892.3,1015.6M893.9,999.1 895.0,988.0M896.7,971.4 897.8,960.3M899.5,943.8 902.8,911.4M904.5,894.6 905.6,883.4M907.3,866.6 908.4,855.5M910.0,839.1 913.2,807.0M914.7,790.4 915.8,779.4M917.3,762.9 918.3,751.8M919.7,735.4 922.5,703.2M923.9,686.6 924.9,675.6M926.4,659.1 927.5,648.1M929.2,631.9 933.2,600.8M936.5,585.2 940.0,575.0M949.9,576.9 953.3,587.3M956.2,602.7 959.9,633.8M961.8,650.2 963.1,661.2M965.2,677.8 966.5,688.8M968.3,705.2 971.7,737.2M973.4,753.8 974.5,764.8M976.1,781.5 977.2,792.5M978.8,809.0 982.0,841.3M983.7,858.0 984.9,869.2M986.7,885.9 988.0,897.1M989.8,913.6 993.7,946.0M995.8,962.6 997.3,973.7M999.5,990.5 1001.0,1001.6M1003.3,1018.0 1008.1,1050.2M1010.8,1066.8 1012.7,1077.9M1015.8,1094.6 1017.9,1105.7M1021.3,1122.1 1028.7,1154.1M1032.9,1170.6 1036.0,1181.6M1040.9,1198.1 1044.5,1209.1M1050.3,1225.4 1056.5,1240.8 1064.1,1257.4M1072.8,1274.0 1079.4,1285.1M1090.6,1301.7 1099.2,1312.8M1113.8,1329.2 1128.6,1343.0 1138.2,1350.6 1146.0,1356.2M1162.6,1365.9 1173.7,1370.9M1190.4,1376.3 1201.6,1378.5M1218.1,1379.8 1226.0,1379.5 1234.8,1378.6 1243.5,1376.9 1252.2,1374.5M1270.6,1366.6 1281.8,1359.2M1298.3,1344.4 1307.7,1333.3M1319.4,1317.0 1328.5,1302.1 1337.8,1284.9M1345.7,1268.3 1350.6,1257.3M1357.3,1240.7 1361.4,1229.7M1367.3,1213.4 1377.9,1181.3M1383.0,1164.7 1386.3,1153.7M1391.1,1137.1 1394.2,1126.1M1398.7,1109.7 1406.9,1077.6M1411.0,1061.1 1413.6,1050.1M1417.5,1033.5 1420.0,1022.5M1423.6,1006.1 1430.6,974.0M1434.1,957.5 1436.3,946.4M1439.7,929.9 1442.0,918.8M1445.3,902.5 1451.8,870.4M1455.2,853.8 1457.4,842.8M1460.8,826.3 1463.1,815.2M1466.5,798.9 1473.4,766.8M1477.1,750.2 1479.6,739.2M1483.5,722.6 1486.3,711.6M1491.0,695.3 1496.6,679.4 1503.8,663.2M1515.8,647.3 1520.3,645.2 1523.1,644.4 1526.8,644.2M1542.7,655.0 1549.8,666.0M1557.8,682.4 1562.7,695.2 1569.4,714.5M1574.8,731.0 1578.4,742.1M1583.5,758.6 1586.9,769.6M1591.8,786.0 1601.4,818.1M1606.3,834.7 1609.7,845.7M1614.9,862.2 1618.4,873.3M1623.7,889.6 1634.5,921.7M1640.2,938.3 1644.0,949.3M1649.9,965.9 1653.9,976.9M1659.9,993.2 1672.7,1025.3M1680.2,1041.9 1685.7,1052.9M1694.9,1069.5 1702.0,1080.5M1714.0,1096.9 1721.1,1105.2 1729.4,1114.1 1736.1,1120.4 1745.4,1128.3M1763.7,1141.1 1775.2,1146.7M1791.5,1150.1 1795.8,1149.8 1802.4,1148.2M1818.5,1138.6 1824.3,1133.3 1830.7,1126.4 1838.5,1116.6 1844.8,1107.5M1854.1,1091.3 1859.3,1080.4M1865.8,1064.1 1869.5,1053.2M1874.2,1037.1 1881.6,1005.3M1884.9,988.8 1887.0,977.8M1890.2,961.4 1892.3,950.3M1895.4,933.8 1901.4,901.0M1904.2,884.3 1906.1,872.7M1908.7,856.0 1910.4,844.8M1912.7,828.4 1916.9,796.3M1918.9,779.8 1920.2,768.9M1922.2,752.2 1923.5,741.0M1925.5,724.6 1929.4,692.5M1931.5,676.0 1933.0,665.0M1935.5,648.5 1937.3,637.5M1940.3,621.2 1947.4,589.3M1955.5,577.8 1959.1,588.8M1963.3,605.3 1965.8,616.3M1968.9,632.6 1973.7,664.7M1975.6,681.2 1976.7,692.3M1978.3,709.1 1979.2,720.3M1980.6,736.8 1983.4,769.2M1985.0,786.0 1986.1,797.1M1987.8,813.8 1988.9,824.9M1990.6,841.3 1994.0,873.5M1995.8,890.1 1996.9,901.1M1998.6,917.6 1999.7,928.6M2001.3,945.0 2004.5,977.1M2006.3,993.6 2007.5,1004.7M2009.3,1021.3 2010.7,1032.4M2012.7,1048.8 2017.1,1080.9M2019.6,1097.5 2021.4,1108.5M2024.2,1125.2 2026.3,1136.2M2029.5,1152.6 2036.6,1184.8M2040.7,1201.4 2043.6,1212.5M2048.3,1229.2 2051.8,1240.3M2057.4,1256.7 2063.6,1272.3 2071.3,1289.0M2080.5,1305.6 2087.6,1316.7M2100.6,1333.3 2111.1,1344.2M2127.4,1358.0 2143.8,1369.4 2159.4,1378.3M2175.8,1386.3 2186.8,1390.9M2203.3,1396.8 2214.3,1400.1M2230.6,1404.2 2246.9,1407.3"/></g>
</g>
<line x1="302" y1="909.8" x2="2250.5" y2="909.8" stroke="#FF0000" stroke-width="5.5" stroke-dasharray="6 14.66"/>
<text transform="translate(260.0,95.2) scale(0.96,1)" font-size="74.6" text-anchor="end">1.25</text>
<text transform="translate(260.0,372.8) scale(0.96,1)" font-size="74.6" text-anchor="end">1.00</text>
<text transform="translate(260.0,650.3) scale(0.96,1)" font-size="74.6" text-anchor="end">0.75</text>
<text transform="translate(260.0,928.3) scale(0.96,1)" font-size="74.6" text-anchor="end">0.50</text>
<text transform="translate(260.0,1205.8) scale(0.96,1)" font-size="74.6" text-anchor="end">0.25</text>
<text transform="translate(260.0,1483.5) scale(0.96,1)" font-size="74.6" text-anchor="end">0.00</text>
<text x="308.6" y="1570.3" font-size="80" text-anchor="middle">0.5</text>
<text x="697.3" y="1570.3" font-size="80" text-anchor="middle">1.0</text>
<text x="1084.2" y="1570.3" font-size="80" text-anchor="middle">1.5</text>
<text x="1470.8" y="1570.3" font-size="80" text-anchor="middle">2.0</text>
<text x="1859.6" y="1570.3" font-size="80" text-anchor="middle">2.5</text>
<text x="2246.3" y="1570.3" font-size="80" text-anchor="middle">3.0</text>
<text x="1306.5" y="1697" font-size="80" text-anchor="middle">Frequency (GHz)</text>
<text transform="translate(79,794.5) rotate(-90)" font-size="81.3" text-anchor="middle">Efficiency</text>
<text class="it og" x="419" y="174.2" font-size="81.9">GSM 850/900</text>
<text class="it oc" x="1321" y="166.3" font-size="81.7">DCS/PCS/UMTS/</text>
<text class="it oc" x="1321" y="277" font-size="82.3">LTE 2300/LTE 2500</text>
<text class="it ow" x="449.3" y="887" font-size="81.5">0.5</text>
<line x1="1398" y1="1011.4" x2="1550" y2="1011.4" stroke="#FF8000" stroke-width="6.8" stroke-dasharray="17.5 13.8"/>
<text class="it oc" x="1572.8" y="1034.6" font-size="82.6">State 1</text>
<line x1="1398" y1="1111.4" x2="1556" y2="1111.4" stroke="#FF0000" stroke-width="6.8" stroke-dasharray="35.3 32.8"/>
<text class="it oc" x="1572.8" y="1135.3" font-size="82.6">State 2</text>
<line x1="1398" y1="1210" x2="1556" y2="1210" stroke="#0000FF" stroke-width="7.6" stroke-dasharray="10.9 29.9"/>
<text class="it oc" x="1572.8" y="1233.8999999999999" font-size="82.6">State 3</text>
<line x1="1398" y1="1310" x2="1556" y2="1310" stroke="#008080" stroke-width="6.8" stroke-dasharray="41 16.4 10.9 17.7"/>
<text class="it oc" x="1572.8" y="1334.3" font-size="82.6">State 4</text>
<line x1="1398" y1="1409.8" x2="1556" y2="1409.8" stroke="#FF00FF" stroke-width="6.8" stroke-dasharray="32 16.5 11 16.5 11 16.3"/>
<text class="it oc" x="1572.8" y="1433.3" font-size="82.6">State 5</text>
</svg></body></html>
